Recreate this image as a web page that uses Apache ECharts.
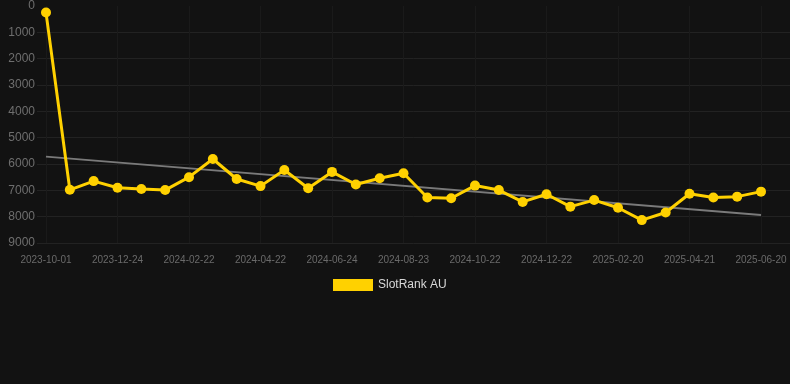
<!DOCTYPE html>
<html>
<head>
<meta charset="utf-8">
<script src="https://cdn.jsdelivr.net/npm/echarts@6/dist/echarts.min.js"></script>
<style>
  html, body { margin: 0; padding: 0; background: #121212; }
  #chart { width: 790px; height: 384px; }
</style>
</head>
<body>
<div id="chart"></div>
<script>
// category dates; every third one is shown on the axis
const dates = [
  '2023-10-01', '2023-10-29', '2023-11-26', '2023-12-24', '2024-01-13', '2024-02-02',
  '2024-02-22', '2024-03-13', '2024-04-02', '2024-04-22', '2024-05-13', '2024-06-03',
  '2024-06-24', '2024-07-14', '2024-08-03', '2024-08-23', '2024-09-12', '2024-10-02',
  '2024-10-22', '2024-11-11', '2024-12-02', '2024-12-22', '2025-01-11', '2025-01-31',
  '2025-02-20', '2025-03-12', '2025-04-01', '2025-04-21', '2025-05-11', '2025-05-31',
  '2025-06-20'
];

const rankValues = [
  250, 6980, 6650, 6900, 6950, 6990, 6500, 5810, 6570, 6840,
  6230, 6920, 6300, 6780, 6540, 6350, 7270, 7300, 6820, 6990,
  7440, 7150, 7620, 7370, 7660, 8130, 7840, 7130, 7270, 7240,
  7050
];

// trend line end points (first and last category)
const trendStart = 5720;
const trendEnd = 7940;

const yTicks = { min: 0, max: 9000, interval: 1000 };

const font = 'Liberation Sans, Arial, sans-serif';
const gridTop = 6;
const gridBottom = 141;

const chart = echarts.init(document.getElementById('chart'), null, { renderer: 'canvas' });
chart.setOption({
  animation: false,
  backgroundColor: '#121212',
  grid: [
    // data area
    { left: 46, right: 29, top: gridTop, bottom: gridBottom },
    // wider area carrying the y labels and horizontal lines
    { left: 37, right: 0, top: gridTop, bottom: gridBottom },
  ],
  legend: {
    data: ['SlotRank AU'],
    top: 274,
    left: 328,
    itemWidth: 40,
    itemHeight: 12,
    itemGap: 6,
    icon: 'rect',
    textStyle: { color: '#d8d8d8', fontSize: 12, fontFamily: font },
  },
  xAxis: [
    {
      type: 'category',
      gridIndex: 0,
      data: dates,
      boundaryGap: false,
      axisLine: { show: false },
      axisTick: { show: false },
      axisLabel: { interval: 2, color: '#6a6a6a', fontSize: 10, margin: 12, fontFamily: font },
      splitLine: { show: true, interval: 2, lineStyle: { color: '#1a1a1a', width: 1 } },
    },
    {
      type: 'value',
      gridIndex: 1,
      show: false,
    },
  ],
  yAxis: [
    {
      type: 'value',
      gridIndex: 0,
      inverse: true,
      min: yTicks.min,
      max: yTicks.max,
      interval: yTicks.interval,
      axisLine: { show: false },
      axisTick: { show: false },
      axisLabel: { show: false },
      splitLine: { show: false },
    },
    {
      type: 'value',
      gridIndex: 1,
      inverse: true,
      min: yTicks.min,
      max: yTicks.max,
      interval: yTicks.interval,
      axisLine: { show: false },
      axisTick: { show: false },
      axisLabel: {
        color: '#6e6e6e',
        fontSize: 12,
        margin: 2,
        fontFamily: font,
        formatter: (v) => String(v),
      },
      splitLine: { showMinLine: false, lineStyle: { color: '#222222', width: 1 } },
    },
  ],
  series: [
    {
      name: 'trend',
      type: 'line',
      xAxisIndex: 0,
      yAxisIndex: 0,
      data: [[0, trendStart], [dates.length - 1, trendEnd]],
      symbol: 'none',
      lineStyle: { color: '#7a7a7a', width: 2 },
      silent: true,
      z: 1,
    },
    {
      name: 'SlotRank AU',
      type: 'line',
      xAxisIndex: 0,
      yAxisIndex: 0,
      data: rankValues,
      symbol: 'circle',
      symbolSize: 10,
      itemStyle: { color: '#FFD100' },
      lineStyle: { color: '#FFD100', width: 3 },
      z: 2,
    },
  ],
});
</script>
</body>
</html>
